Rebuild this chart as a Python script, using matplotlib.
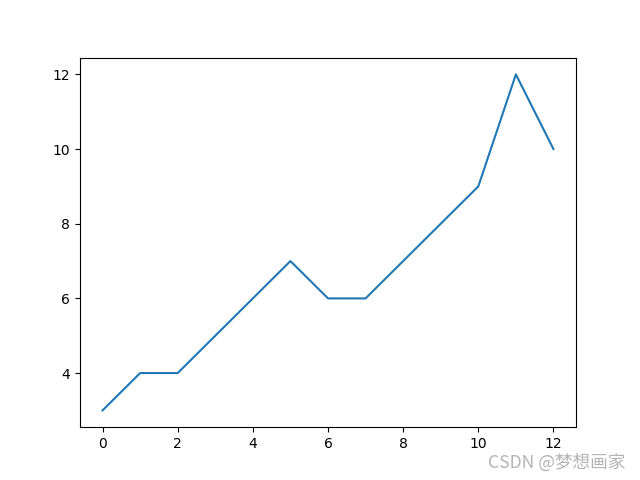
import matplotlib
matplotlib.use("Agg")
import matplotlib.pyplot as plt

# data
x = list(range(13))
y = [3, 4, 4, 5, 6, 7, 6, 6, 7, 8, 9, 12, 10]

fig, ax = plt.subplots(figsize=(6.4, 4.8), dpi=100)
ax.plot(x, y)

# watermark in the corner
fig.text(0.977, 0.037, "CSDN @梦想画家", ha="right", va="center",
         fontsize=12.7, color="#b4b4b4",
         family=["Noto Sans CJK SC", "DejaVu Sans"])

fig.savefig("out.png", dpi=100)
